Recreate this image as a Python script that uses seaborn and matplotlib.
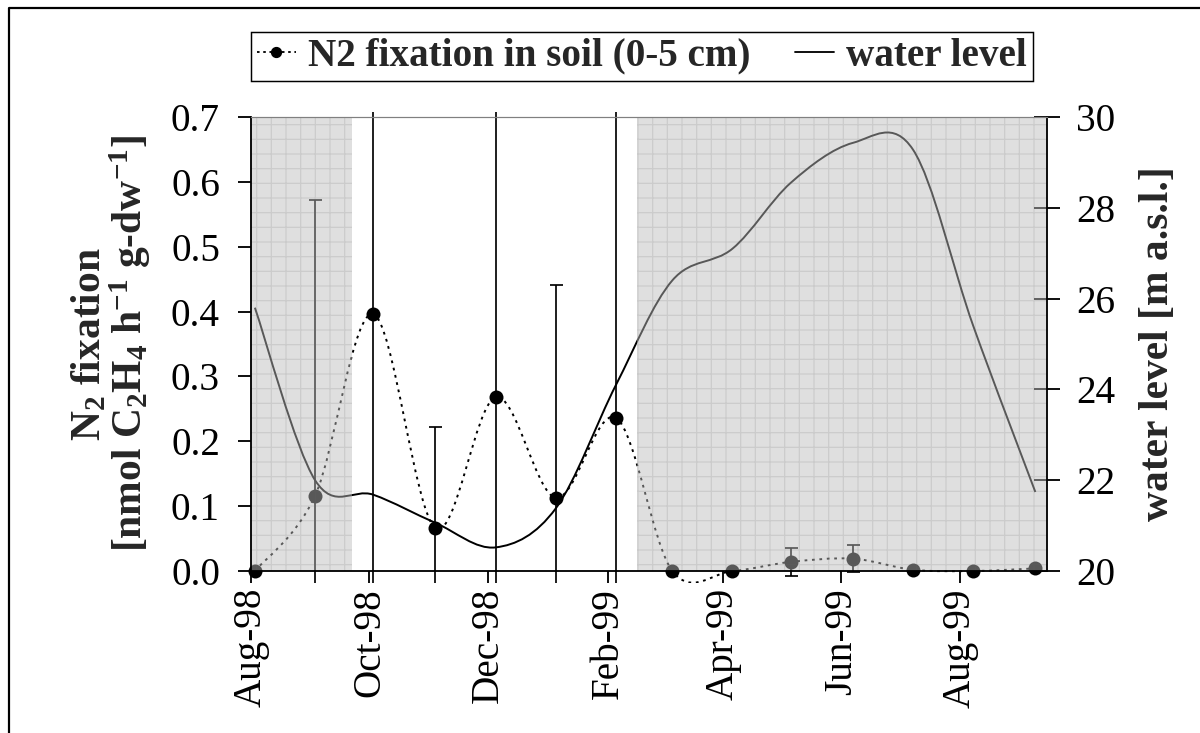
import numpy as np
import pandas as pd
import matplotlib
matplotlib.use("Agg")
import matplotlib.pyplot as plt
import seaborn as sns
from matplotlib.path import Path
from matplotlib.patches import PathPatch, Rectangle
from matplotlib.lines import Line2D
import matplotlib.dates as mdates

# ---------------- data ----------------
sample_dates = ["1998-08-03", "1998-09-03", "1998-10-03", "1998-11-04", "1998-12-05",
                "1999-01-05", "1999-02-05", "1999-03-06", "1999-04-06", "1999-05-06",
                "1999-06-07", "1999-07-08", "1999-08-08", "1999-09-09"]
n2_fixation = [0.0, 0.116, 0.396, 0.066, 0.268, 0.113, 0.236, 0.0, 0.0, 0.014,
               0.019, 0.002, 0.0, 0.004]
n2_error = [0.0, 0.456, 0.45, 0.156, 0.50, 0.328, 0.50, 0.0, 0.0, 0.022,
            0.021, 0.0, 0.0, 0.0]
water_level = [25.8, 22.0, 21.68, 21.06, 20.52, 21.38, 24.1, 26.4, 27.1, 28.55,
               29.43, 29.28, 25.4, 21.74]
flood_starts = ["1998-08-01", "1999-02-16"]
flood_ends = ["1998-09-22", "1999-09-15"]
x_tick_dates = ["1998-08-01", "1998-10-01", "1998-12-01", "1999-02-01",
                "1999-04-01", "1999-06-01", "1999-08-01"]
x_tick_labels = ["Aug-98", "Oct-98", "Dec-98", "Feb-99", "Apr-99", "Jun-99", "Aug-99"]
n2_ticks = [0.0, 0.1, 0.2, 0.3, 0.4, 0.5, 0.6, 0.7]
water_ticks = [20, 22, 24, 26, 28, 30]
legend_labels = ["N2 fixation in soil (0-5 cm)", "water level"]

df = pd.DataFrame({"date": pd.to_datetime(sample_dates), "n2": n2_fixation,
                   "err": n2_error, "water": water_level})

# ---------------- style ----------------
DPI = 88
sns.set_theme(style="white")
plt.rcParams["font.family"] = ["Liberation Serif", "DejaVu Serif"]
plt.rcParams["mathtext.fontset"] = "custom"
plt.rcParams["mathtext.rm"] = "Liberation Serif:bold"
plt.rcParams["mathtext.it"] = "Liberation Serif:bold"
plt.rcParams["mathtext.bf"] = "Liberation Serif:bold"
plt.rcParams["hatch.linewidth"] = 1.0
FS = 32
LFS = 34

W, H = 1200, 733
fig = plt.figure(figsize=(W / DPI, H / DPI), dpi=DPI)
ax_l, ax_r, ax_t, ax_b = 251, 1047, 117, 571
ax = fig.add_axes([ax_l / W, (H - ax_b) / H, (ax_r - ax_l) / W, (ax_b - ax_t) / H])
ax2 = ax.twinx()
px = 72 / DPI  # points per pixel


def smooth_path(xs, ys):
    pts = np.column_stack([xs, ys]).astype(float)
    n = len(pts)
    verts = [pts[0]]
    codes = [Path.MOVETO]
    for i in range(n - 1):
        p0 = pts[max(i - 1, 0)]
        p1 = pts[i]
        p2 = pts[i + 1]
        p3 = pts[min(i + 2, n - 1)]
        verts += [p1 + (p2 - p0) / 6.0, p2 - (p3 - p1) / 6.0, p2]
        codes += [Path.CURVE4] * 3
    return Path(verts, codes)


xnum = mdates.date2num(df["date"])
clip_rect = Rectangle((0, -12 / 454), 1, (454 + 17) / 454, transform=ax.transAxes)

# N2 fixation: smoothed dotted line, error bars, markers
sns.scatterplot(data=df, x="date", y="n2", ax=ax, color="black", s=(14 * px) ** 2,
                linewidth=0, zorder=4, clip_on=False, legend=False)
dotted = PathPatch(smooth_path(xnum, df["n2"]), fill=False, edgecolor="black",
                   lw=1.6, linestyle=(0, (1.4, 2.4)), zorder=3)
ax.add_patch(dotted)
dotted.set_clip_path(clip_rect)
m = df["err"] > 0
eb = ax.errorbar(df["date"][m], df["n2"][m], yerr=df["err"][m], fmt="none",
                 ecolor="black", elinewidth=1.4, capsize=6.5 * px, capthick=1.4,
                 zorder=3)
for art in [*eb.lines[1], *eb.lines[2]]:
    art.set_clip_path(clip_rect)

# water level: smoothed solid line on right axis
ax2.add_patch(PathPatch(smooth_path(xnum, df["water"]), fill=False, edgecolor="black",
                        lw=1.6, zorder=3))

# flooded periods: grey gridded overlay
for s, e in zip(flood_starts, flood_ends):
    ax2.axvspan(pd.Timestamp(s), pd.Timestamp(e), facecolor=(0.74, 0.74, 0.74, 0.47),
                edgecolor=(0.4, 0.4, 0.4, 0.16), hatch="+", lw=0, zorder=10)

# axes limits and ticks
ax.set_xlim(pd.Timestamp("1998-08-01"), pd.Timestamp("1999-09-15"))
ax.set_ylim(0, 0.7)
ax2.set_ylim(20, 30)
ax.set_xticks(pd.to_datetime(x_tick_dates))
ax.set_xticklabels(x_tick_labels, rotation=90)
ax.set_yticks(n2_ticks)
ax.set_yticklabels([f"{v:.1f}" for v in n2_ticks])
ax2.set_yticks(water_ticks)
ax2.set_yticklabels([str(v) for v in water_ticks])
ax.xaxis.set_minor_locator(plt.NullLocator())

ax.tick_params(axis="y", direction="out", length=13 * px, width=1.5, pad=18 * px,
               labelsize=FS, colors="black", left=True)
ax.tick_params(axis="x", direction="out", length=12 * px, width=1.5, pad=5 * px,
               labelsize=FS, colors="black", bottom=True)
ax2.tick_params(axis="y", direction="inout", length=25 * px, width=1.5, pad=17 * px,
                labelsize=FS, colors="black", right=True)

for sp in ax.spines.values():
    sp.set_visible(False)
for name, sp in ax2.spines.items():
    sp.set_visible(True)
    sp.set_zorder(20)
    sp.set_color("black" if name != "top" else "#808080")
    sp.set_linewidth(1.5 if name != "top" else 1.0)
ax.grid(False)
ax2.grid(False)

ax.set_xlabel("")
ax.set_ylabel("N$_2$ fixation\n[nmol C$_2$H$_4$ h$^{-1}$ g-dw$^{-1}$]", fontsize=LFS,
              fontweight="bold", linespacing=0.95, va="center", ha="center")
ax.yaxis.set_label_coords((112 - ax_l) / (ax_r - ax_l), 0.5)
ax2.set_ylabel("water level [m a.s.l.]", fontsize=LFS, fontweight="bold",
               va="center", ha="center", rotation=90)
ax2.yaxis.set_label_coords((1158 - ax_l) / (ax_r - ax_l), 0.5)

# legend
h1 = Line2D([], [], color="black", linestyle=(0, (1.4, 2.0)), lw=1.5, marker="o",
            markersize=10 * px)
h2 = Line2D([], [], color="black", lw=1.5)
leg = fig.legend([h1, h2], legend_labels, loc="upper left",
                 bbox_to_anchor=(ax_l / W, 1 - 32 / H), ncol=2, frameon=True,
                 fancybox=False, edgecolor="black", framealpha=1,
                 prop={"family": "Liberation Serif", "weight": "bold", "size": FS},
                 handlelength=1.0, handletextpad=0.3, columnspacing=1.15,
                 borderpad=0.15, borderaxespad=0)
leg.get_frame().set_linewidth(1.2)

# figure frame (left and top edges visible)
fig.add_artist(Line2D([9 / W, 9 / W, 1.0], [0, 1 - 8 / H, 1 - 8 / H],
                      transform=fig.transFigure, color="black", lw=1.8))

fig.savefig("out.png", dpi=DPI)
